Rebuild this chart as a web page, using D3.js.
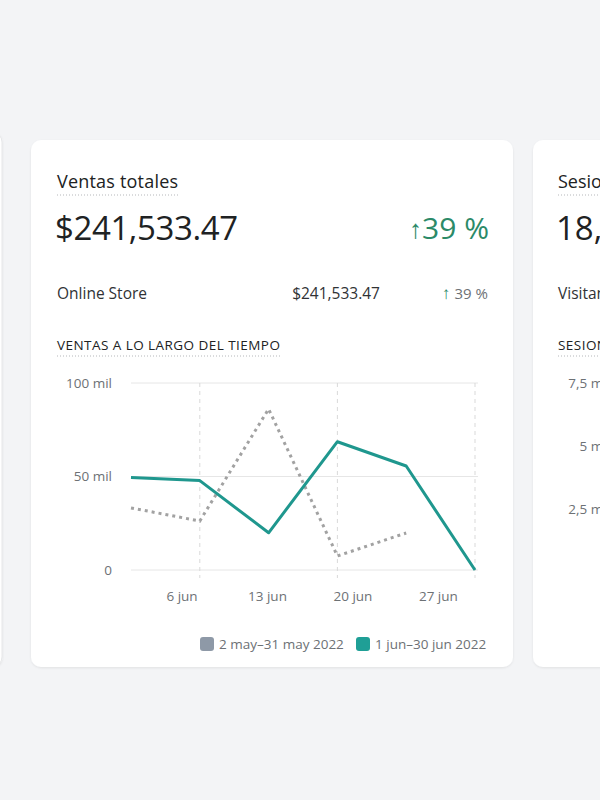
<!DOCTYPE html>
<html>
<head>
<meta charset="utf-8">
<script src="https://cdn.jsdelivr.net/npm/d3@7"></script>
<style>
  html, body { margin: 0; padding: 0; background: #f3f4f6; }
  svg { display: block; font-family: "Open Sans", "Noto Sans", sans-serif; }
</style>
</head>
<body>
<svg id="chart" width="600" height="800"></svg>
<script>
// ---- data ----
const pointLabels = ["1", "2", "3", "4", "5", "6"];
const currentSales = [49400, 47800, 19900, 68600, 55600, 0];
const previousSales = [33200, 26200, 86100, 7500, 19800];
const yTicks = [0, 50000, 100000];
const yTickLabels = ["0", "50 mil", "100 mil"];
const xTickDates = ["2022-06-06", "2022-06-13", "2022-06-20", "2022-06-27"];
const xTickLabels = ["6 jun", "13 jun", "20 jun", "27 jun"];
const legendLabels = ["2 may\u201331 may 2022", "1 jun\u201330 jun 2022"];
const rightYTicks = ["7,5 mil", "5 mil", "2,5 mil"];

const svg = d3.select("#chart");
svg.append("rect").attr("width", 600).attr("height", 800).attr("fill", "#f3f4f6");

const defs = svg.append("defs");
const f = defs.append("filter").attr("id", "sh").attr("x", "-5%").attr("y", "-5%").attr("width", "110%").attr("height", "110%");
f.append("feDropShadow").attr("dx", 0).attr("dy", 1).attr("stdDeviation", 1.2).attr("flood-color", "#000").attr("flood-opacity", 0.08);

// cards
svg.append("rect").attr("x", -30).attr("y", 132).attr("width", 32).attr("height", 535).attr("rx", 10)
  .attr("fill", "#fff").attr("stroke", "#e6e7e9").attr("filter", "url(#sh)");
svg.append("rect").attr("x", 31).attr("y", 140).attr("width", 482).attr("height", 527).attr("rx", 10)
  .attr("fill", "#fff").attr("filter", "url(#sh)");
svg.append("rect").attr("x", 533).attr("y", 140).attr("width", 482).attr("height", 527).attr("rx", 10)
  .attr("fill", "#fff").attr("filter", "url(#sh)");

const dark = "#202223", mid = "#303235", grey = "#6d7175", green = "#2b8a68";

function dotted(x1, x2, y) {
  svg.append("line").attr("x1", x1).attr("x2", x2).attr("y1", y).attr("y2", y)
    .attr("stroke", "#b5b7ba").attr("stroke-width", 1).attr("stroke-dasharray", "1,2");
}

// header texts
svg.append("text").attr("x", 57).attr("y", 188).attr("font-size", 18).attr("fill", dark).attr("letter-spacing", 0.2).text("Ventas totales");
dotted(57, 179, 195);
svg.append("text").attr("x", 55).attr("y", 240).attr("font-size", 33).attr("font-weight", 500).attr("fill", dark).attr("letter-spacing", -0.4).text("$241,533.47");
const bigPct = svg.append("text").attr("x", 489).attr("y", 239).attr("text-anchor", "end").attr("font-size", 30).attr("fill", green);
bigPct.append("tspan").attr("font-size", 26).attr("font-weight", 700).attr("dy", -1).text("\u2191");
bigPct.append("tspan").attr("dy", 1).text("39 %");

svg.append("text").attr("x", 57).attr("y", 299).attr("font-size", 15.5).attr("fill", mid).text("Online Store");
svg.append("text").attr("x", 380).attr("y", 299).attr("text-anchor", "end").attr("font-size", 15.5).attr("fill", mid).text("$241,533.47");
const smPct = svg.append("text").attr("x", 488).attr("y", 299).attr("text-anchor", "end").attr("font-size", 15).attr("fill", grey);
smPct.append("tspan").attr("fill", green).attr("font-size", 17).text("\u2191 ");
smPct.append("tspan").text("39 %");

svg.append("text").attr("x", 57).attr("y", 350).attr("font-size", 13.5).attr("letter-spacing", 0.45).attr("fill", dark).text("VENTAS A LO LARGO DEL TIEMPO");
dotted(57, 280, 356);

// scales
const x = d3.scalePoint().domain(pointLabels).range([131, 475]);
const y = d3.scaleLinear().domain([0, 100000]).range([570, 383]);
const xt = d3.scaleTime().domain([new Date(2022, 5, 1), new Date(2022, 5, 30)]).range([121, 475]);
const parse = d3.timeParse("%Y-%m-%d");

const g = svg.append("g");
// horizontal grid
g.selectAll(".hg").data(yTicks).join("line")
  .attr("x1", 131).attr("x2", 478)
  .attr("y1", d => y(d)).attr("y2", d => y(d))
  .attr("stroke", "#e6e6e6").attr("stroke-width", 1);
// vertical dashed grid
g.selectAll(".vg").data([pointLabels[1], pointLabels[3], pointLabels[5]]).join("line")
  .attr("x1", d => x(d)).attr("x2", d => x(d))
  .attr("y1", y(100000)).attr("y2", 578)
  .attr("stroke", "#d9d9d9").attr("stroke-width", 1).attr("stroke-dasharray", "4,4");

// y labels
g.selectAll(".yl").data(yTicks).join("text")
  .attr("x", 112).attr("y", d => y(d)).attr("dy", "0.35em")
  .attr("text-anchor", "end").attr("font-size", 13.5).attr("fill", grey)
  .text((d, i) => yTickLabels[i]);
// x labels
g.selectAll(".xl").data(xTickDates).join("text")
  .attr("x", d => xt(parse(d))).attr("y", 601)
  .attr("text-anchor", "middle").attr("font-size", 13.5).attr("fill", grey)
  .text((d, i) => xTickLabels[i]);

const line = d3.line().x((d, i) => x(pointLabels[i])).y(d => y(d));
g.append("path").datum(previousSales).attr("d", line)
  .attr("fill", "none").attr("stroke", "#a2a2a2").attr("stroke-width", 3).attr("stroke-dasharray", "3,4");
g.append("path").datum(currentSales).attr("d", line)
  .attr("fill", "none").attr("stroke", "#1f978e").attr("stroke-width", 3).attr("stroke-linejoin", "round");

// legend
const lg = svg.append("g").attr("font-size", 13.5).attr("fill", grey);
lg.append("rect").attr("x", 200).attr("y", 637).attr("width", 14).attr("height", 14).attr("rx", 3).attr("fill", "#8e99a7");
lg.append("text").attr("x", 219).attr("y", 649).text(legendLabels[0]);
lg.append("rect").attr("x", 356).attr("y", 637).attr("width", 14).attr("height", 14).attr("rx", 3).attr("fill", "#1f9f96");
lg.append("text").attr("x", 375).attr("y", 649).text(legendLabels[1]);

// right card (partially visible, cut off by the viewport as in the reference)
svg.append("text").attr("x", 558).attr("y", 188).attr("font-size", 18).attr("fill", dark).text("Sesiones en la tienda online");
dotted(558, 780, 195);
svg.append("text").attr("x", 556).attr("y", 240).attr("font-size", 33).attr("font-weight", 500).attr("fill", dark).text("18,954");
svg.append("text").attr("x", 558).attr("y", 299).attr("font-size", 15.5).attr("fill", mid).text("Visitantes");
svg.append("text").attr("x", 558).attr("y", 350).attr("font-size", 13.5).attr("letter-spacing", 0.45).attr("fill", dark).text("SESIONES A LO LARGO DEL TIEMPO");
dotted(558, 800, 356);
svg.selectAll(".ryl").data(rightYTicks).join("text")
  .attr("x", 610).attr("y", (d, i) => 383 + i * 63).attr("dy", "0.35em")
  .attr("text-anchor", "end").attr("font-size", 13.5).attr("fill", grey).text(d => d);
</script>
</body>
</html>
